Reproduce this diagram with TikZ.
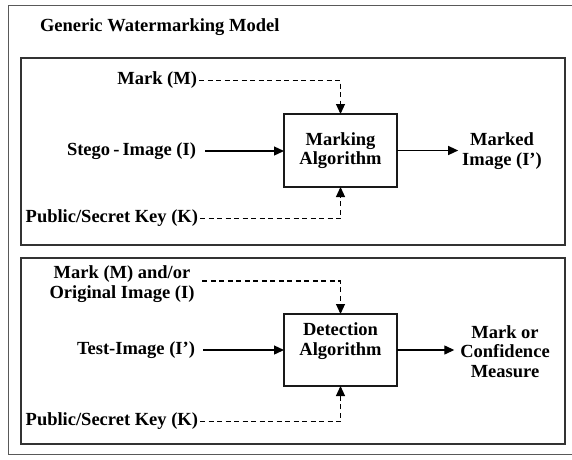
\documentclass[tikz,border=0pt]{standalone}
\usepackage{fontspec}
\setmainfont{Liberation Serif}
\usetikzlibrary{arrows.meta,calc}
\begin{document}
\begin{tikzpicture}[x=1pt,y=-1pt,
  lbl/.style={font=\fontsize{18.5}{19.5}\selectfont\bfseries, inner sep=2pt, outer sep=0pt},
  algbox/.style={draw=black!90, line width=1.2pt, minimum width=113pt, minimum height=73pt, inner sep=0pt, outer sep=0pt},
  panel/.style={draw=black!80, line width=1.3pt},
  frame/.style={draw=black!65, line width=0.9pt},
  flow/.style={line width=1.3pt, -{Triangle[length=10pt,width=9pt]}},
  dflow/.style={line width=1.1pt, dash pattern=on 5pt off 3.5pt, -{Triangle[length=10pt,width=9pt]}}
]
\useasboundingbox (0,0) rectangle (572,459);
\path[frame] (573,5) -- (8,5) -- (8,454) -- (573,454);
\path[panel] (21,58) rectangle (565,245);
\path[panel] (21,258) rectangle (565,444);

\node[lbl, anchor=west] (title) at (38,27) {Generic Watermarking Model};

% top panel
\node[algbox, align=center, font=\fontsize{18.5}{19.5}\selectfont\bfseries] (mbox) at (340.5,150.5) {Marking\\Algorithm};
\node[lbl, anchor=east] (mark) at (199,80.5) {Mark (M)};
\node[lbl, anchor=east] (stego) at (198,151) {Stego\,-\,Image (I)};
\node[lbl, anchor=east] (key1) at (200,218.5) {Public/Secret Key (K)};
\node[lbl, align=center] (marked) at (502,151) {Marked\\Image (I’)};

\draw[dflow] (mark.east) -| (mbox.north);
\draw[dflow] (key1.east) -| (mbox.south);
\draw[flow, shorten <=7pt] (stego.east) -- (stego.east -| mbox.west);
\draw[flow, shorten >=2pt] (mbox.east) -- (mbox.east -| marked.west);

% bottom panel
\node[algbox, minimum height=72pt] (dbox) at (340.5,350) {};
\node[lbl, align=center] (dtext) at (340.5,341) {Detection\\Algorithm};
\node[lbl, align=center] (markor) at (122,284) {Mark (M) and/or\\Original Image (I)};
\node[lbl, anchor=east] (test) at (197,350) {Test-Image (I’)};
\node[lbl, anchor=east] (key2) at (200,421.5) {Public/Secret Key (K)};
\node[lbl, align=center] (conf) at (505,351.5) {Mark or\\Confidence\\Measure};

\draw[dflow, shorten <=6pt] ([yshift=3pt]markor.east) -| (dbox.north);
\draw[dflow] (key2.east) -| (dbox.south);
\draw[flow, shorten <=6pt] (test.east) -- (test.east -| dbox.west);
\draw[flow, shorten >=4pt] (dbox.east) -- (dbox.east -| conf.west);
\end{tikzpicture}
\end{document}
